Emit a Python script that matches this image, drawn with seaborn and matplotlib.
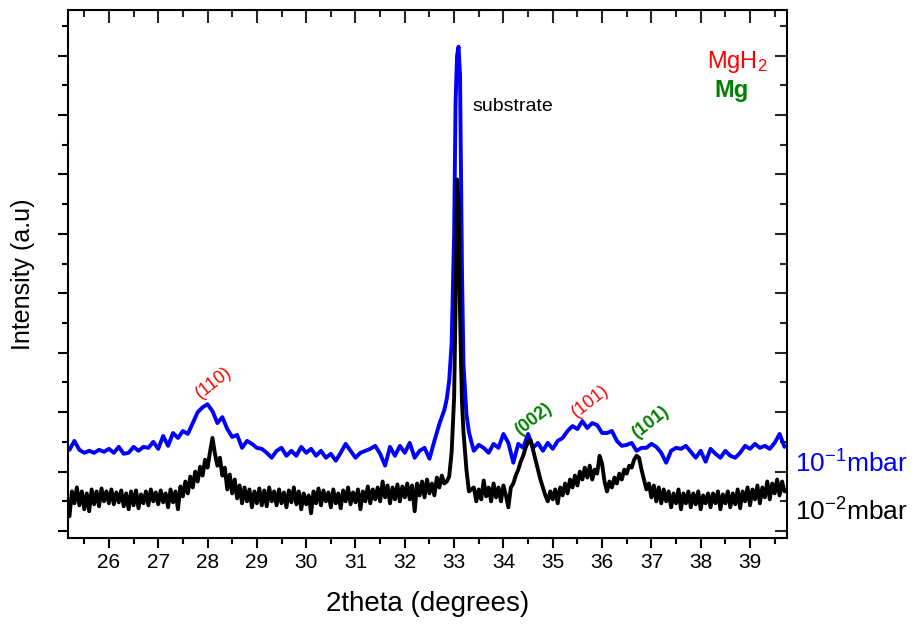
import numpy as np
import pandas as pd
import seaborn as sns
import matplotlib.pyplot as plt
import matplotlib.transforms as mtransforms
from matplotlib.ticker import MultipleLocator

# ---- 10^-1 mbar (blue), 0.1 deg steps, finer across the substrate peak
blue_theta_lo = np.round(np.arange(25.2, 32.81, 0.1), 2)
blue_theta_pk = [32.85, 32.9, 32.95, 33.0, 33.03, 33.06, 33.09, 33.12, 33.14, 33.16, 33.19, 33.25, 33.3, 33.35]
blue_theta_hi = np.round(np.arange(33.4, 39.71, 0.1), 2)
blue_lo = [82, 91, 82, 79, 81, 79, 82, 80, 83, 79,
           85, 78, 79, 85, 81, 85, 84, 90, 83, 96,
           86, 99, 94, 101, 98, 109, 120, 125, 128, 121,
           109, 115, 103, 95, 97, 84, 91, 88, 84, 83,
           79, 74, 81, 84, 76, 81, 76, 85, 79, 83,
           76, 81, 74, 78, 71, 79, 88, 81, 74, 79,
           81, 83, 86, 78, 66, 85, 76, 86, 79, 89,
           74, 81, 84, 73, 91, 108, 122]
blue_pk = [133, 152, 190, 300, 434, 480, 489, 460, 360, 260, 168, 118, 100, 90]
blue_hi = [81, 87, 84, 79, 88, 84, 98, 89, 69, 88,
           84, 98, 84, 89, 81, 89, 83, 91, 94, 101,
           106, 103, 111, 104, 109, 107, 99, 99, 101, 91,
           86, 87, 89, 81, 84, 84, 88, 85, 79, 69,
           81, 84, 83, 86, 80, 74, 81, 70, 83, 78,
           74, 81, 76, 74, 79, 86, 83, 88, 84, 86,
           83, 89, 98, 85]

# ---- 10^-2 mbar (black), 0.05 deg steps (noisier trace)
black_theta_lo = np.round(np.arange(25.2, 32.801, 0.05), 2)
black_theta_pk = [32.85, 32.9, 32.95, 33.0, 33.03, 33.06, 33.09, 33.12, 33.14, 33.16, 33.19, 33.25, 33.3, 33.35]
black_theta_hi = np.round(np.arange(33.4, 39.701, 0.05), 2)
black_lo = [15, 40, 28, 44, 26, 40, 22, 38, 20, 42,
            27, 40, 25, 43, 30, 40, 28, 42, 27, 39,
            29, 41, 25, 38, 22, 40, 26, 41, 23, 37,
            28, 40, 26, 42, 30, 39, 27, 41, 29, 38,
            24, 42, 29, 40, 22, 45, 35, 50, 38, 55,
            44, 60, 50, 65, 56, 72, 64, 80, 94, 78,
            66, 74, 56, 64, 42, 57, 38, 52, 33, 46,
            28, 44, 30, 42, 24, 40, 28, 43, 26, 41,
            25, 44, 30, 40, 26, 42, 28, 39, 24, 41,
            29, 44, 27, 40, 22, 38, 27, 36, 18, 40,
            28, 43, 26, 41, 30, 39, 24, 42, 28, 38,
            23, 41, 30, 44, 27, 39, 29, 42, 22, 40,
            30, 45, 28, 42, 32, 44, 30, 50, 34, 46,
            28, 44, 32, 47, 30, 45, 34, 48, 32, 46,
            20, 48, 36, 50, 34, 52, 38, 48, 36, 54,
            44, 56, 48]
black_pk = [50, 55, 80, 135, 230, 355, 330, 220, 170, 130, 100, 62, 40, 42]
black_hi = [44, 30, 42, 32, 51, 35, 44, 30, 48, 34,
            44, 30, 46, 36, 24, 44, 48, 56, 62, 70,
            76, 84, 90, 92, 82, 72, 62, 52, 44, 36,
            30, 40, 32, 42, 28, 44, 36, 48, 38, 52,
            44, 56, 46, 60, 52, 64, 54, 66, 52, 62,
            58, 76, 68, 50, 40, 50, 44, 54, 48, 58,
            52, 62, 58, 66, 64, 72, 76, 74, 62, 52,
            42, 48, 34, 46, 30, 44, 28, 42, 30, 40,
            24, 38, 28, 42, 22, 38, 28, 40, 24, 38,
            27, 40, 22, 36, 28, 38, 24, 38, 28, 40,
            22, 37, 28, 40, 24, 38, 27, 42, 23, 40,
            30, 44, 26, 42, 32, 46, 28, 44, 34, 50,
            32, 48, 38, 52, 36, 50, 40]

blue_theta = np.concatenate([blue_theta_lo, blue_theta_pk, blue_theta_hi])
black_theta = np.concatenate([black_theta_lo, black_theta_pk, black_theta_hi])
df = pd.concat([
    pd.DataFrame({'theta': blue_theta, 'intensity': blue_lo + blue_pk + blue_hi, 'p': '1e-1'}),
    pd.DataFrame({'theta': black_theta, 'intensity': black_lo + black_pk + black_hi, 'p': '1e-2'}),
])

sns.set_theme(style='ticks')
plt.rcParams['font.family'] = ['Liberation Sans', 'DejaVu Sans']
plt.rcParams['mathtext.fontset'] = 'custom'
plt.rcParams['mathtext.rm'] = 'Liberation Sans'
plt.rcParams['mathtext.it'] = 'Liberation Sans:italic'
plt.rcParams['mathtext.bf'] = 'Liberation Sans:bold'
plt.rcParams['text.color'] = 'black'
plt.rcParams['axes.labelcolor'] = 'black'

fig = plt.figure(figsize=(9.15, 6.26), dpi=100)
ax = fig.add_axes([0.0743, 0.1406, 0.7858, 0.8434])

sns.lineplot(data=df, x='theta', y='intensity', hue='p', hue_order=['1e-1', '1e-2'],
             palette={'1e-1': '#0000ff', '1e-2': 'black'}, estimator=None, sort=False,
             lw=2.8, legend=False, ax=ax)

ax.set_xlim(25.17, 39.75)
ax.set_ylim(-7, 526)
ax.xaxis.set_major_locator(MultipleLocator(1))
ax.xaxis.set_minor_locator(MultipleLocator(0.5))
ax.yaxis.set_major_locator(MultipleLocator(60))
ax.yaxis.set_minor_locator(MultipleLocator(30))
ax.set_yticklabels([])
ax.tick_params(which='major', direction='out', length=7, width=1.5, colors='black', labelsize=15)
ax.tick_params(which='minor', direction='out', length=4, width=1.5, colors='black')
for lbl in ax.get_xticklabels():
    lbl.set_family(['Liberation Sans Narrow', 'Liberation Sans'])
for s in ax.spines.values():
    s.set_linewidth(1.5)
    s.set_color('black')

# inward ticks on top and right
top = ax.secondary_xaxis('top')
top.xaxis.set_major_locator(MultipleLocator(1))
top.xaxis.set_minor_locator(MultipleLocator(0.5))
top.tick_params(which='major', direction='in', length=9, width=1.5, labeltop=False)
top.tick_params(which='minor', direction='in', length=5, width=1.5)
right = ax.secondary_yaxis('right')
right.yaxis.set_major_locator(MultipleLocator(60))
right.yaxis.set_minor_locator(MultipleLocator(30))
right.tick_params(which='major', direction='in', length=9, width=1.5, labelright=False)
right.tick_params(which='minor', direction='in', length=5, width=1.5)

ax.set_xlabel('2theta (degrees)', fontsize=20, labelpad=14)
ax.set_ylabel('Intensity (a.u)', fontsize=18, labelpad=13)

ax.text(34.19, 429, 'substrate', fontsize=14, ha='center', va='center')
ax.text(28.13, 150, '(110)', fontsize=13, color='red', rotation=38,
        ha='center', va='center', rotation_mode='anchor')
ax.text(34.6, 113, '(002)', fontsize=13, color='green', fontweight='bold', rotation=38,
        ha='center', va='center', rotation_mode='anchor')
ax.text(35.76, 131, '(101)', fontsize=13, color='red', rotation=38,
        ha='center', va='center', rotation_mode='anchor')
ax.text(36.97, 110, '(101)', fontsize=13, color='green', fontweight='bold', rotation=38,
        ha='center', va='center', rotation_mode='anchor')

ax.text(38.74, 474, 'MgH$_2$', fontsize=17, color='red', ha='center', va='center')
ax.text(38.62, 445, 'Mg', fontsize=17, color='green', fontweight='bold', ha='center', va='center')

trans = mtransforms.blended_transform_factory(ax.transAxes, ax.transData)
ax.text(1.011, 68, '10$^{-1}$mbar', fontsize=19, color='#0000ff', ha='left', va='center',
        transform=trans, clip_on=False)
ax.text(1.011, 19, '10$^{-2}$mbar', fontsize=19, color='black', ha='left', va='center',
        transform=trans, clip_on=False)

fig.savefig('out.png', dpi=100)
